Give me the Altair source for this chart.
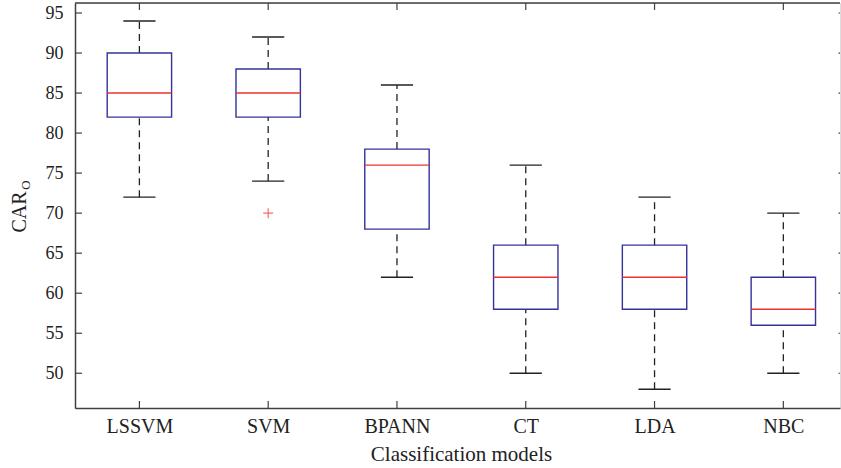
import altair as alt
import pandas as pd

models = ["LSSVM", "SVM", "BPANN", "CT", "LDA", "NBC"]
w_low = [72, 74, 62, 50, 48, 50]
q1 = [82, 82, 68, 58, 58, 56]
median = [85, 85, 76, 62, 62, 58]
q3 = [90, 88, 78, 66, 66, 62]
w_high = [94, 92, 86, 76, 72, 70]
outlier_model = ["SVM"]
outlier_value = [70]
y_ticks = [50, 55, 60, 65, 70, 75, 80, 85, 90, 95]

W, H = 765, 405
FONT = "Liberation Serif"
BLUE = "#34329c"
RED = "#f0302c"
AX = "#404040"

df = pd.DataFrame({
    "model": models,
    "pos": list(range(1, len(models) + 1)),
    "w_low": w_low, "q1": q1, "median": median, "q3": q3, "w_high": w_high,
})
df_out = pd.DataFrame({
    "pos": [models.index(m) + 1 for m in outlier_model],
    "value": outlier_value,
})

xscale = alt.Scale(domain=[0.5, 6.44], nice=False, zero=False)
yscale = alt.Scale(domain=[45.66, 96.25], nice=False, zero=False)

label_expr = "[" + ",".join("'%s'" % m for m in models) + "][datum.value-1]"

base = alt.Chart(df).transform_calculate(
    left="datum.pos - 0.25", right="datum.pos + 0.25",
    cl="datum.pos - 0.125", cr="datum.pos + 0.125",
)

xaxis = alt.Axis(values=list(range(1, 7)), labelExpr=label_expr, ticks=False, tickSize=0,
                 grid=False, domain=True, domainColor=AX, domainWidth=1.5,
                 labelFont=FONT, labelFontSize=20, labelColor="#222", labelPadding=8,
                 title="Classification models", titleFont=FONT, titleFontSize=21,
                 titleFontWeight="normal", titleColor="#222", titlePadding=7, titleX=386)
yaxis = alt.Axis(values=y_ticks, ticks=False, tickSize=0, grid=False, domain=True,
                 domainColor=AX, domainWidth=1.5, labelFont=FONT, labelFontSize=18,
                 labelColor="#222", labelPadding=12, title=None)

whisk_hi = base.mark_rule(color="#222", strokeWidth=1.3, strokeDash=[7, 5]).encode(
    x=alt.X("pos:Q", scale=xscale, axis=xaxis),
    y=alt.Y("q3:Q", scale=yscale, axis=yaxis),
    y2="w_high:Q",
)
whisk_lo = base.mark_rule(color="#222", strokeWidth=1.3, strokeDash=[7, 5]).encode(
    x=alt.X("pos:Q", scale=xscale), y=alt.Y("w_low:Q", scale=yscale), y2="q1:Q")
cap_hi = base.mark_rule(color="#222", strokeWidth=1.4).encode(
    x=alt.X("cl:Q", scale=xscale), x2="cr:Q", y=alt.Y("w_high:Q", scale=yscale))
cap_lo = base.mark_rule(color="#222", strokeWidth=1.4).encode(
    x=alt.X("cl:Q", scale=xscale), x2="cr:Q", y=alt.Y("w_low:Q", scale=yscale))
box = base.mark_rect(fill="white", fillOpacity=0, stroke=BLUE, strokeWidth=1.4).encode(
    x=alt.X("left:Q", scale=xscale), x2="right:Q",
    y=alt.Y("q1:Q", scale=yscale), y2="q3:Q")
med = base.mark_rule(color=RED, strokeWidth=1.4).encode(
    x=alt.X("left:Q", scale=xscale), x2="right:Q", y=alt.Y("median:Q", scale=yscale))
out = alt.Chart(df_out).mark_point(shape="M-1,0L1,0M0,-1L0,1", size=100, filled=False,
                                   stroke=RED, strokeWidth=1.2).encode(
    x=alt.X("pos:Q", scale=xscale), y=alt.Y("value:Q", scale=yscale))

# inward tick marks
ytick_df = pd.DataFrame({"v": y_ticks})
ytick_l = alt.Chart(ytick_df).mark_rule(color=AX, strokeWidth=1.2).encode(
    y=alt.Y("v:Q", scale=yscale), x=alt.value(0), x2=alt.value(7))
ytick_r = alt.Chart(ytick_df).mark_rule(color=AX, strokeWidth=1.2).encode(
    y=alt.Y("v:Q", scale=yscale), x=alt.value(W - 1.5), x2=alt.value(W))
xtick_b = base.mark_rule(color=AX, strokeWidth=1.2).encode(
    x=alt.X("pos:Q", scale=xscale), y=alt.value(H), y2=alt.value(H - 7))
xtick_t = base.mark_rule(color=AX, strokeWidth=1.2).encode(
    x=alt.X("pos:Q", scale=xscale), y=alt.value(0), y2=alt.value(7))
top_frame = alt.Chart(df.head(1)).mark_rule(color=AX, strokeWidth=1.5).encode(
    x=alt.value(0), x2=alt.value(W), y=alt.value(0))

lab_df = pd.DataFrame({"t": ["CAR"], "s": ["O"]})
ylab = alt.Chart(lab_df).mark_text(font=FONT, fontSize=20, angle=270, align="center",
                                   baseline="middle", color="#222").encode(
    text="t:N", x=alt.value(-55), y=alt.value(209))
ysub = alt.Chart(lab_df).mark_text(font=FONT, fontSize=13, angle=270, align="center",
                                   baseline="middle", color="#222").encode(
    text="s:N", x=alt.value(-49), y=alt.value(182))

chart = alt.layer(
    whisk_hi, whisk_lo, cap_hi, cap_lo, box, med, out,
    ytick_l, ytick_r, xtick_b, xtick_t, top_frame, ylab, ysub,
).properties(
    width=W, height=H,
    autosize=alt.AutoSizeParams(type="none"),
    padding={"left": 75, "top": 3, "right": 1, "bottom": 60},
).configure_view(stroke=None).configure(background="white")

chart.save("out.html", embed_options={"renderer": "svg", "actions": False})
